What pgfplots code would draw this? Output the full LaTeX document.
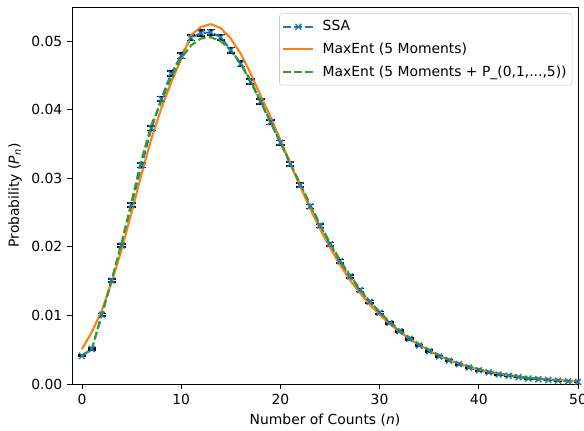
\documentclass[border=0pt]{standalone}
\usepackage{fontspec}
\setmainfont{DejaVu Sans}
\usepackage{pgfplots}
\pgfplotsset{compat=1.18}
\usepackage{pgfplotstable}
\definecolor{c0}{HTML}{1F77B4}
\definecolor{c1}{HTML}{FF7F0E}
\definecolor{c2}{HTML}{2CA02C}

\pgfplotstableread{
n p e
0 0.0041 0.00011
1 0.0051 0.00013
2 0.0101 0.00018
3 0.0151 0.00022
4 0.0202 0.00025
5 0.0261 0.00029
6 0.0319 0.00032
7 0.0373 0.00034
8 0.0416 0.00036
9 0.0453 0.00038
10 0.0479 0.00039
11 0.0505 0.0004
12 0.0512 0.0004
13 0.0513 0.0004
14 0.0506 0.0004
15 0.0487 0.0004
16 0.0467 0.00039
17 0.0441 0.00038
18 0.0412 0.00036
19 0.0382 0.00035
20 0.0352 0.00034
21 0.0321 0.00032
22 0.0290 0.0003
23 0.0259 0.00029
24 0.0231 0.00027
25 0.0204 0.00026
26 0.0179 0.00024
27 0.0157 0.00022
28 0.0137 0.00021
29 0.0120 0.0002
30 0.0104 0.00018
31 0.0089 0.00017
32 0.0077 0.00016
33 0.0066 0.00015
34 0.0056 0.00013
35 0.0048 0.00012
36 0.0040 0.00011
37 0.0034 0.0001
38 0.0029 0.0001
39 0.0024 0.00009
40 0.0020 0.00008
41 0.0017 0.00007
42 0.0014 0.00007
43 0.0012 0.00006
44 0.0010 0.00006
45 0.0008 0.00005
46 0.0007 0.00005
47 0.0006 0.00004
48 0.0005 0.00004
49 0.0004 0.00004
50 0.0003 0.00003
}\ssa

\pgfplotstableread{
n p
0 0.0051
1 0.0076
2 0.0107
3 0.0149
4 0.0196
5 0.0250
6 0.0306
7 0.0358
8 0.0402
9 0.0440
10 0.0474
11 0.0509
12 0.0521
13 0.0525
14 0.0519
15 0.0504
16 0.0482
17 0.0453
18 0.0421
19 0.0390
20 0.0356
21 0.0322
22 0.0288
23 0.0256
24 0.0226
25 0.0199
26 0.0174
27 0.0152
28 0.0133
29 0.0116
30 0.0101
31 0.0088
32 0.0076
33 0.0066
34 0.0057
35 0.0049
36 0.0041
37 0.0035
38 0.0030
39 0.0025
40 0.0021
41 0.0018
42 0.0015
43 0.0013
44 0.0011
45 0.0009
46 0.0008
47 0.0007
48 0.0006
49 0.0005
50 0.0004
}\mefive

\pgfplotstableread{
n p
0 0.0041
1 0.0051
2 0.0101
3 0.0152
4 0.0206
5 0.0266
6 0.0327
7 0.0378
8 0.0412
9 0.0448
10 0.0475
11 0.0494
12 0.0504
13 0.0506
14 0.0500
15 0.0487
16 0.0468
17 0.0443
18 0.0413
19 0.0383
20 0.0353
21 0.0322
22 0.0292
23 0.0262
24 0.0233
25 0.0206
26 0.0181
27 0.0159
28 0.0139
29 0.0121
30 0.0105
31 0.0091
32 0.0079
33 0.0068
34 0.0058
35 0.0050
36 0.0042
37 0.0036
38 0.0030
39 0.0026
40 0.0022
41 0.0018
42 0.0015
43 0.0013
44 0.0011
45 0.0009
46 0.0008
47 0.0006
48 0.0005
49 0.0004
50 0.0004
}\mesix

\begin{document}
\begin{tikzpicture}
\begin{axis}[
  scale only axis,
  width=364.32pt, height=271.44pt,
  xmin=-1, xmax=50, ymin=0, ymax=0.055,
  xtick={0,10,20,30,40,50},
  ytick={0,0.01,0.02,0.03,0.04,0.05},
  tick align=outside, tick pos=left,
  major tick length=3.5pt,
  every tick/.style={black, line width=0.6pt},
  axis line style={line width=0.6pt},
  /pgf/number format/assume math mode=true,
  yticklabel style={/pgf/number format/.cd, fixed, fixed zerofill, precision=2},
  scaled y ticks=false,
  tick label style={font=\fontsize{10}{12}\selectfont},
  label style={font=\fontsize{10}{12}\selectfont},
  xlabel={Number of Counts (\textit{n})},
  ylabel={Probability (\textit{P}\textsubscript{\textit{n}})},
  legend cell align=left,
  legend style={at={(0.989,0.983)}, anchor=north east, draw=black!20, rounded corners=2pt,
    fill=white, fill opacity=0.8, text opacity=1,
    font=\fontsize{10}{12}\selectfont, row sep=3.2pt, inner xsep=2pt, inner ysep=3pt},
  legend image code/.code={\draw[mark repeat=2,mark phase=2,#1] plot coordinates {(0cm,0cm) (0.38cm,0cm) (0.76cm,0cm)}; \path (0.9cm,0cm);},
]
\addplot[c0, line width=1.5pt, dash pattern=on 5.55pt off 2.4pt, mark=x, mark size=3pt,
  mark options={solid, line width=1pt}] table[x=n, y=p] {\ssa};
\addlegendentry{SSA}
\addplot[draw=none, mark=none, forget plot,
  error bars/.cd, y dir=both, y explicit,
  error bar style={black, line width=1.2pt},
  error mark options={rotate=90, black, mark size=3pt, line width=1.2pt}]
  table[x=n, y=p, y error=e] {\ssa};
\addplot[c1, line width=1.5pt] table[x=n, y=p] {\mefive};
\addlegendentry{MaxEnt (5 Moments)}
\addplot[c2, line width=1.5pt, dash pattern=on 5.55pt off 2.4pt] table[x=n, y=p] {\mesix};
\addlegendentry{MaxEnt (5 Moments + P\_(0,1,...,5))}
\coordinate (ll) at (rel axis cs:0,0);
\coordinate (ur) at (rel axis cs:1,1);
\end{axis}
\pgfresetboundingbox
\useasboundingbox ([xshift=-51.84pt,yshift=-33.12pt]ll) rectangle ([xshift=4.32pt,yshift=5.04pt]ur);
\end{tikzpicture}
\end{document}
